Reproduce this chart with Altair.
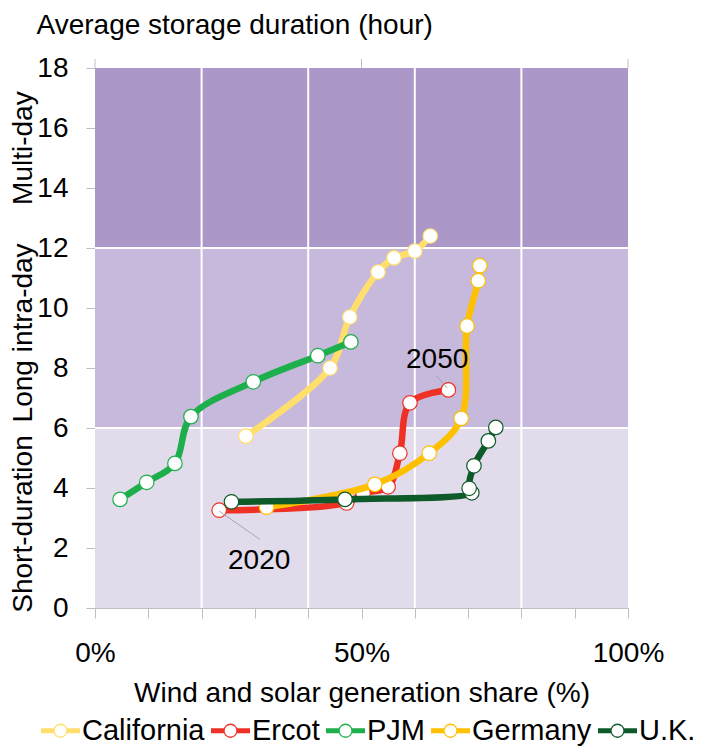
import altair as alt
import pandas as pd

FONT = "Liberation Sans, Arial, sans-serif"
FS = 28

SERIES = ["California", "Ercot", "PJM", "Germany", "U.K."]
COLORS = ["#FFDF6B", "#EE3124", "#1DAF4C", "#FFC000", "#0E5A28"]

CALIFORNIA_SHARE = [0.283, 0.441, 0.478, 0.531, 0.561, 0.600, 0.629]
CALIFORNIA_HOURS = [5.73, 8.00, 9.70, 11.20, 11.67, 11.90, 12.40]
ERCOT_SHARE = [0.233, 0.472, 0.503, 0.550, 0.572, 0.591, 0.663]
ERCOT_HOURS = [3.26, 3.50, 3.82, 4.04, 5.16, 6.84, 7.27]
PJM_SHARE = [0.047, 0.097, 0.150, 0.180, 0.297, 0.418, 0.480]
PJM_HOURS = [3.62, 4.19, 4.82, 6.38, 7.54, 8.41, 8.87]
GERMANY_SHARE = [0.322, 0.525, 0.627, 0.687, 0.698, 0.719, 0.722]
GERMANY_HOURS = [3.36, 4.12, 5.16, 6.32, 9.40, 10.91, 11.41]
UK_SHARE = [0.256, 0.469, 0.707, 0.702, 0.711, 0.738, 0.752]
UK_HOURS = [3.54, 3.62, 3.84, 3.99, 4.74, 5.57, 6.02]

BAND_LABELS = ["Short-duration", "Long intra-day", "Multi-day"]
BAND_LOW = [0, 6, 12]
BAND_HIGH = [6, 12, 18]
BAND_COLORS = ["#E2DBEC", "#C7B9DB", "#AB97C8"]
BAND_LABEL_POS = [2.8, 9.17, 15.33]

GRID_X = [0.2, 0.4, 0.6, 0.8]
GRID_Y = [6, 12]
TOP_MARKS = [0, 0.5, 1]
X_TICKS = [0, 0.1, 0.2, 0.3, 0.4, 0.5, 0.6, 0.7, 0.8, 0.9, 1.0]
Y_TICKS = [0, 2, 4, 6, 8, 10, 12, 14, 16, 18]

ANNOT_TEXT = ["2050", "2020"]
ANNOT_X = [0.642, 0.308]
ANNOT_Y = [8.28, 1.58]
LEADER_X1 = [0.641, 0.233]
LEADER_Y1 = [7.73, 3.23]
LEADER_X2 = [0.661, 0.309]
LEADER_Y2 = [7.33, 2.29]

shares = [CALIFORNIA_SHARE, ERCOT_SHARE, PJM_SHARE, GERMANY_SHARE, UK_SHARE]
hours = [CALIFORNIA_HOURS, ERCOT_HOURS, PJM_HOURS, GERMANY_HOURS, UK_HOURS]
rows = []
for s, xv, yv in zip(SERIES, shares, hours):
    for i, (a, b) in enumerate(zip(xv, yv)):
        rows.append({"series": s, "idx": i, "share": a, "hours": b})
df = pd.DataFrame(rows)

bands = pd.DataFrame({"label": BAND_LABELS, "lo": BAND_LOW, "hi": BAND_HIGH,
                      "col": BAND_COLORS, "pos": BAND_LABEL_POS,
                      "x0": [0] * 3, "x1": [1] * 3})
gridx = pd.DataFrame({"gx": GRID_X, "y0": [0] * len(GRID_X), "y1": [18] * len(GRID_X)})
gridy = pd.DataFrame({"gy": GRID_Y, "x0": [0] * len(GRID_Y), "x1": [1] * len(GRID_Y)})
tops = pd.DataFrame({"tx": TOP_MARKS, "ty": [18] * len(TOP_MARKS)})
annot = pd.DataFrame({"t": ANNOT_TEXT, "ax": ANNOT_X, "ay": ANNOT_Y,
                      "x1": LEADER_X1, "y1": LEADER_Y1, "x2": LEADER_X2, "y2": LEADER_Y2})

xs = alt.Scale(domain=[0, 1], nice=False, zero=False)
ys = alt.Scale(domain=[0, 18], nice=False, zero=False)

x_axis = alt.Axis(
    values=X_TICKS,
    labelExpr="(datum.value == 0 || datum.value == 0.5 || datum.value == 1) ? format(datum.value, '.0%') : ''",
    tickSize=10, labelPadding=21, grid=False, labelFlush=False, labelOverlap=False,
    title="Wind and solar generation share (%)",
    titleX=266.5, titleY=93, titleBaseline="alphabetic", titleAlign="center",
)
y_axis = alt.Axis(
    values=Y_TICKS, tickSize=9, labelPadding=18, grid=False,
    title="Average storage duration (hour)",
    titleAngle=0, titleAlign="left", titleBaseline="alphabetic",
    titleX=-59, titleY=-35,
)


def X(field):
    return alt.X(field, scale=xs, axis=x_axis)


def Y(field):
    return alt.Y(field, scale=ys, axis=y_axis)


# legend symbol: thick bar through a thin ring
bar_path = "".join(f"M-3,{v}L-0.96,{v}M0.96,{v}L3,{v}" for v in [-0.3, -0.15, 0, 0.15, 0.3])
ring_path = "M1,0A1,1 0 1,1 -1,0A1,1 0 1,1 1,0Z"
legend = alt.Legend(
    title=None, orient="none", direction="horizontal",
    legendX=-49, legendY=648, padding=0,
    symbolType=ring_path + bar_path, symbolSize=169, symbolStrokeWidth=1.3,
    symbolFillColor="white",
    labelFont=FONT, labelFontSize=29, labelColor="black", labelOffset=7,
    columnPadding=3, labelLimit=300,
)

band_layer = alt.Chart(bands).mark_rect().encode(
    x=X("x0:Q"), x2="x1:Q", y=Y("lo:Q"), y2="hi:Q",
    fill=alt.Fill("col:N", scale=None),
)
gx_layer = alt.Chart(gridx).mark_rule(color="white", strokeWidth=2).encode(
    x=X("gx:Q"), y=Y("y0:Q"), y2="y1:Q")
gy_layer = alt.Chart(gridy).mark_rule(color="white", strokeWidth=2).encode(
    y=Y("gy:Q"), x=X("x0:Q"), x2="x1:Q")
top_layer = alt.Chart(tops).mark_rule(color="#BFBFBF", strokeWidth=1, y2Offset=-9).encode(
    x=X("tx:Q"), y=Y("ty:Q"), y2="ty:Q")
band_text = alt.Chart(bands).mark_text(
    angle=270, font=FONT, fontSize=FS, align="center", baseline="middle", color="black"
).encode(x=alt.value(-71), y=Y("pos:Q"), text="label:N")

layers = [band_layer, gx_layer, gy_layer, top_layer, band_text]

for s, c in zip(SERIES, COLORS):
    base = alt.Chart(df).transform_filter(alt.datum.series == s)
    line = base.mark_line(interpolate="catmull-rom", strokeWidth=6.5, color=c).encode(
        x=X("share:Q"), y=Y("hours:Q"),
        order=alt.Order("idx:Q"),
    )
    pts = base.mark_point(filled=True, fill="white", size=210, strokeWidth=1.2, opacity=1).encode(
        x=X("share:Q"), y=Y("hours:Q"),
        stroke=alt.Stroke("series:N", scale=alt.Scale(domain=SERIES, range=COLORS), legend=legend),
    )
    layers += [line, pts]

leader = alt.Chart(annot).mark_rule(color="#A6A6A6", strokeWidth=1).encode(
    x=X("x1:Q"), y=Y("y1:Q"), x2="x2:Q", y2="y2:Q")
annot_text = alt.Chart(annot).mark_text(
    font=FONT, fontSize=FS, align="center", baseline="middle", color="black"
).encode(x=X("ax:Q"), y=Y("ay:Q"), text="t:N")
layers += [leader, annot_text]

chart = alt.layer(*layers).properties(
    width=533, height=540,
    autosize=alt.AutoSizeParams(type="none"),
    padding={"left": 87, "top": 60, "right": 72, "bottom": 139},
).configure_view(stroke=None).configure_axis(
    domainColor="#BFBFBF", tickColor="#BFBFBF", labelColor="black",
    labelFont=FONT, labelFontSize=FS, titleFont=FONT, titleFontSize=FS,
    titleFontWeight="normal", titleColor="black",
)

chart.save("out.html", embed_options={"renderer": "svg", "actions": False})
